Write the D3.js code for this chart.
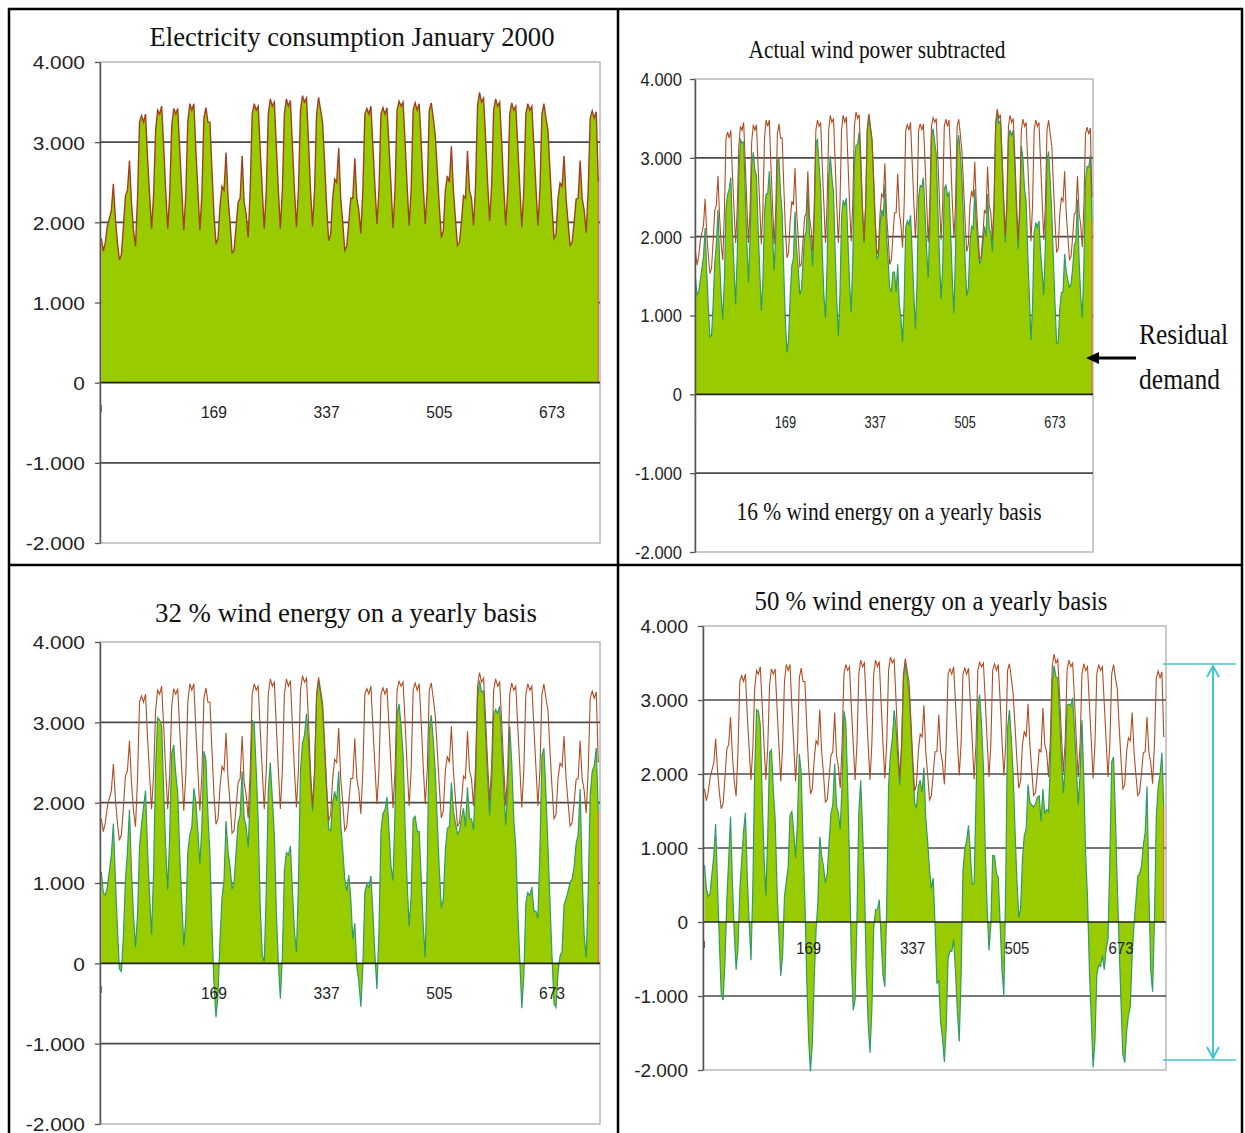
<!DOCTYPE html>
<html><head><meta charset="utf-8">
<script src="https://cdn.jsdelivr.net/npm/d3@7"></script>
<style>body{margin:0;background:#fff}svg{display:block}</style>
</head><body>
<svg id="c" width="1245" height="1133"></svg>
<script>
// ---------- DATA (3-hour samples, hour index 1..744) ----------
// Electricity consumption, January 2000 (MW), one row per day: 00,03,06,09,12,15,18,21 h
const demand = [
1800,1640,1750,1950,2050,2150,2480,2050,
1750,1530,1600,1950,2330,2400,2770,2250,
1900,1700,2300,3250,3330,3250,3350,2800,
2350,1920,2350,3150,3400,3350,3450,2950,
2400,1920,2350,3200,3420,3350,3420,2900,
2400,1900,2350,3250,3480,3400,3480,2900,
2400,1900,2350,3300,3430,3250,3250,2650,
2100,1730,1800,2200,2450,2400,2870,2300,
2000,1620,1650,1950,2250,2300,2830,2250,
2100,1810,2400,3350,3480,3400,3450,2900,
2400,1920,2400,3350,3540,3450,3500,2950,
2400,1920,2400,3350,3540,3450,3520,2950,
2400,1940,2420,3400,3580,3500,3550,3000,
2400,1950,2400,3350,3560,3400,3240,2740,
2200,1770,1850,2300,2540,2500,2930,2300,
2000,1650,1700,2000,2300,2300,2800,2300,
2150,1860,2400,3350,3420,3350,3450,2950,
2450,1980,2400,3350,3430,3350,3430,2950,
2450,1930,2400,3400,3510,3450,3500,3000,
2450,1960,2400,3400,3490,3400,3480,3000,
2450,1980,2400,3400,3490,3300,3080,2650,
2200,1810,1900,2400,2580,2500,2950,2400,
2050,1710,1750,2000,2330,2300,2890,2400,
2300,1960,2450,3450,3620,3500,3550,3050,
2500,2020,2450,3400,3540,3450,3500,3000,
2450,1960,2400,3350,3490,3400,3450,2950,
2450,1940,2400,3350,3480,3400,3450,2950,
2450,1960,2400,3350,3480,3300,3150,2650,
2200,1800,1850,2300,2490,2450,2830,2300,
2000,1710,1750,2000,2290,2300,2770,2300,
2150,1870,2400,3300,3390,3300,3380,2500
];
// Actual wind power (MW) at the same hours (16 % of yearly energy)
const wind = [
330,380,450,500,450,400,370,500,
650,800,850,800,650,500,430,550,
650,750,850,900,800,650,600,700,
750,780,600,350,170,160,250,400,
480,500,380,290,350,500,650,780,
820,840,900,930,940,850,650,450,
380,330,320,330,450,700,950,1100,
1180,1200,1100,950,820,680,550,450,
400,350,320,280,250,230,220,220,
200,180,170,160,250,500,850,1100,
1150,950,750,600,520,700,950,1150,
1200,1180,1150,1100,1080,1050,1030,1020,
1000,900,700,500,420,330,220,120,
60,30,20,20,20,30,40,40,
30,50,100,150,200,240,270,290,
290,300,400,450,750,1000,1150,1170,
1190,1200,1220,1230,1220,1200,1180,1160,
1170,1150,1000,850,780,720,680,650,
620,450,250,150,140,250,450,650,
720,750,780,800,830,880,920,970,
990,950,600,250,200,260,350,450,
520,560,550,500,450,400,350,250,
150,50,50,100,200,300,350,300,
250,150,100,70,50,60,80,100,
100,90,100,150,190,170,150,130,
120,120,130,200,500,800,1000,1150,
1200,1250,1280,1300,1300,1280,1250,1150,
900,700,500,380,400,600,850,950,
1050,1150,1200,1210,1200,1150,1050,750,
550,350,350,400,400,350,300,600,
900,900,750,600,500,420,350,300
];
const windShares = [0, 16, 32, 50];          // % wind energy per panel
const baseShare = 16;                        // share represented by the actual wind series
const yTicks = [4000, 3000, 2000, 1000, 0, -1000, -2000];
const xTickLabels = ["169", "337", "505", "673"];
const xTickHours = [169, 337, 505, 673];
const titles = ["Electricity consumption January 2000", "Actual wind power subtracted",
                "32 % wind energy on a yearly basis", "50 % wind energy on a yearly basis"];
const subNote = "16 % wind energy on a yearly basis";
const annotation = ["Residual", "demand"];

// ---------- LAYOUT ----------
const hours = demand.map((_, i) => 1 + 3 * i);
const svg = d3.select("#c");
const SANS = "'Liberation Sans', Arial, sans-serif";
const SERIF = "'Liberation Serif', 'Times New Roman', serif";

const layout = [
  {left:100, right:600, x1:101.3, x2:599.6, yTop:62,  yBot:543,  yFont:19, ySx:1.1, yGap:15, xFont:17, xSx:0.92, xLabY:418,
   title:{x:352, y:46, w:405, size:28}},
  {left:695, right:1093, x1:695.5, x2:1093, yTop:79, yBot:552, yFont:18, ySx:0.92, yGap:13, xFont:16, xSx:0.8, xLabY:428,
   title:{x:877, y:58, w:257, size:25}},
  {left:100, right:600, x1:101.3, x2:599.6, yTop:642, yBot:1124, yFont:19, ySx:1.1, yGap:15, xFont:17, xSx:0.92, xLabY:999,
   title:{x:346, y:622, w:382, size:28}},
  {left:703, right:1166, x1:704.5, x2:1165, yTop:626, yBot:1070, yFont:19, ySx:1.0, yGap:15, xFont:17, xSx:0.88, xLabY:954,
   title:{x:931, y:610, w:353, size:27}}
];

const fmt = v => v === 0 ? "0" : (v < 0 ? "-" : "") + d3.format(",")(Math.abs(v)).replace(/,/g, ".");

layout.forEach((p, k) => {
  const g = svg.append("g");
  const x = d3.scaleLinear().domain([1, 744]).range([p.x1, p.x2]);
  const y = d3.scaleLinear().domain([-2000, 4000]).range([p.yBot, p.yTop]);
  const factor = windShares[k] / baseShare;
  const pts = hours.map((h, i) => ({h, d: demand[i], r: demand[i] - factor * wind[i]}));

  // plot area border
  g.append("rect").attr("x", p.left).attr("y", p.yTop).attr("width", p.right - p.left)
    .attr("height", p.yBot - p.yTop).attr("fill", "#fff").attr("stroke", "#b8b8b8").attr("stroke-width", 1.5);
  // gridlines
  g.selectAll("line.grid").data(yTicks.filter(v => v !== 4000 && v !== -2000 && v !== 0)).join("line")
    .attr("x1", p.left).attr("x2", p.right).attr("y1", d => y(d)).attr("y2", d => y(d))
    .attr("stroke", "#4a4a4a").attr("stroke-width", 1.6);

  // residual area
  const area = d3.area().x(d => x(d.h)).y0(y(0)).y1(d => y(d.r));
  g.append("path").datum(pts).attr("d", area).attr("fill", "#99cc00");
  if (k > 0) {
    g.append("path").datum(pts).attr("d", d3.line().x(d => x(d.h)).y(d => y(d.r)))
      .attr("fill", "none").attr("stroke", "#2f9a6a").attr("stroke-width", 1.2);
  }
  // demand line
  g.append("path").datum(pts).attr("d", d3.line().x(d => x(d.h)).y(d => y(d.d)))
    .attr("fill", "none").attr("stroke", k === 0 ? "#a0401c" : "#b04e22").attr("stroke-width", k === 0 ? 1.4 : 1.1);
  // right edge of area
  const last = pts[pts.length - 1];
  g.append("line").attr("x1", x(last.h)).attr("x2", x(last.h)).attr("y1", y(0)).attr("y2", y(last.r))
    .attr("stroke", "#e0642a").attr("stroke-width", 1.2);

  // zero axis
  g.append("line").attr("x1", p.left).attr("x2", p.right).attr("y1", y(0)).attr("y2", y(0))
    .attr("stroke", "#222").attr("stroke-width", 1.6);

  // left axis
  const ax = g.append("g").attr("transform", `translate(${p.left},0)`)
    .call(d3.axisLeft(y).tickValues(yTicks).tickSize(5).tickSizeOuter(0).tickFormat(fmt));
  ax.select(".domain").attr("stroke", "#555").attr("stroke-width", 1.5);
  ax.selectAll(".tick line").attr("stroke", "#555").attr("stroke-width", 1.3);
  ax.selectAll(".tick text").attr("x", 0).attr("dy", "0.36em")
    .attr("transform", `translate(${-p.yGap},0) scale(${p.ySx},1)`)
    .attr("font-family", SANS).attr("font-size", p.yFont).attr("fill", "#222").attr("text-anchor", "end");

  // x labels
  g.selectAll("text.xl").data(xTickHours).join("text")
    .attr("transform", (d, i) => `translate(${x(d)},${p.xLabY}) scale(${p.xSx},1)`)
    .attr("text-anchor", "middle").attr("font-family", SANS).attr("font-size", p.xFont).attr("fill", "#222")
    .text((d, i) => xTickLabels[i]);
  // cut-off first label ("1")
  g.append("line").attr("x1", x(1)).attr("x2", x(1)).attr("y1", p.xLabY - 13).attr("y2", p.xLabY - 6)
    .attr("stroke", "#666").attr("stroke-width", 1.2);

  // title
  g.append("text").attr("x", p.title.x).attr("y", p.title.y).attr("text-anchor", "middle")
    .attr("font-family", SERIF).attr("font-size", p.title.size).attr("fill", "#111")
    .attr("textLength", p.title.w).attr("lengthAdjust", "spacingAndGlyphs").text(titles[k]);
});

// subtitle in panel 2
svg.append("text").attr("x", 889).attr("y", 520).attr("text-anchor", "middle")
  .attr("font-family", SERIF).attr("font-size", 25).attr("fill", "#111")
  .attr("textLength", 305).attr("lengthAdjust", "spacingAndGlyphs").text(subNote);

// Residual demand annotation
svg.append("text").attr("x", 1139).attr("y", 344).attr("font-family", SERIF).attr("font-size", 29).attr("fill", "#111")
  .attr("textLength", 89).attr("lengthAdjust", "spacingAndGlyphs").text(annotation[0]);
svg.append("text").attr("x", 1139).attr("y", 389).attr("font-family", SERIF).attr("font-size", 29).attr("fill", "#111")
  .attr("textLength", 81).attr("lengthAdjust", "spacingAndGlyphs").text(annotation[1]);
svg.append("line").attr("x1", 1136).attr("x2", 1096).attr("y1", 358).attr("y2", 358).attr("stroke", "#000").attr("stroke-width", 3);
svg.append("path").attr("d", "M1086,358 L1099,352 L1099,364 Z").attr("fill", "#000");

// cyan range bracket (panel 4)
const cy = "#45c6cf";
svg.append("line").attr("x1", 1163).attr("x2", 1236).attr("y1", 664).attr("y2", 664).attr("stroke", cy).attr("stroke-width", 1.6);
svg.append("line").attr("x1", 1163).attr("x2", 1236).attr("y1", 1060).attr("y2", 1060).attr("stroke", cy).attr("stroke-width", 1.6);
svg.append("line").attr("x1", 1213).attr("x2", 1213).attr("y1", 666).attr("y2", 1058).attr("stroke", cy).attr("stroke-width", 2);
svg.append("path").attr("d", "M1207,677 L1213,666 L1219,677").attr("fill", "none").attr("stroke", cy).attr("stroke-width", 2);
svg.append("path").attr("d", "M1207,1047 L1213,1058 L1219,1047").attr("fill", "none").attr("stroke", cy).attr("stroke-width", 2);

// table borders
const tb = svg.append("g").attr("stroke", "#000").attr("stroke-width", 2.5).attr("fill", "none");
tb.append("rect").attr("x", 9).attr("y", 9).attr("width", 1233).attr("height", 1140);
tb.append("line").attr("x1", 618).attr("x2", 618).attr("y1", 9).attr("y2", 1140);
tb.append("line").attr("x1", 9).attr("x2", 1242).attr("y1", 565).attr("y2", 565);
</script>
</body></html>
